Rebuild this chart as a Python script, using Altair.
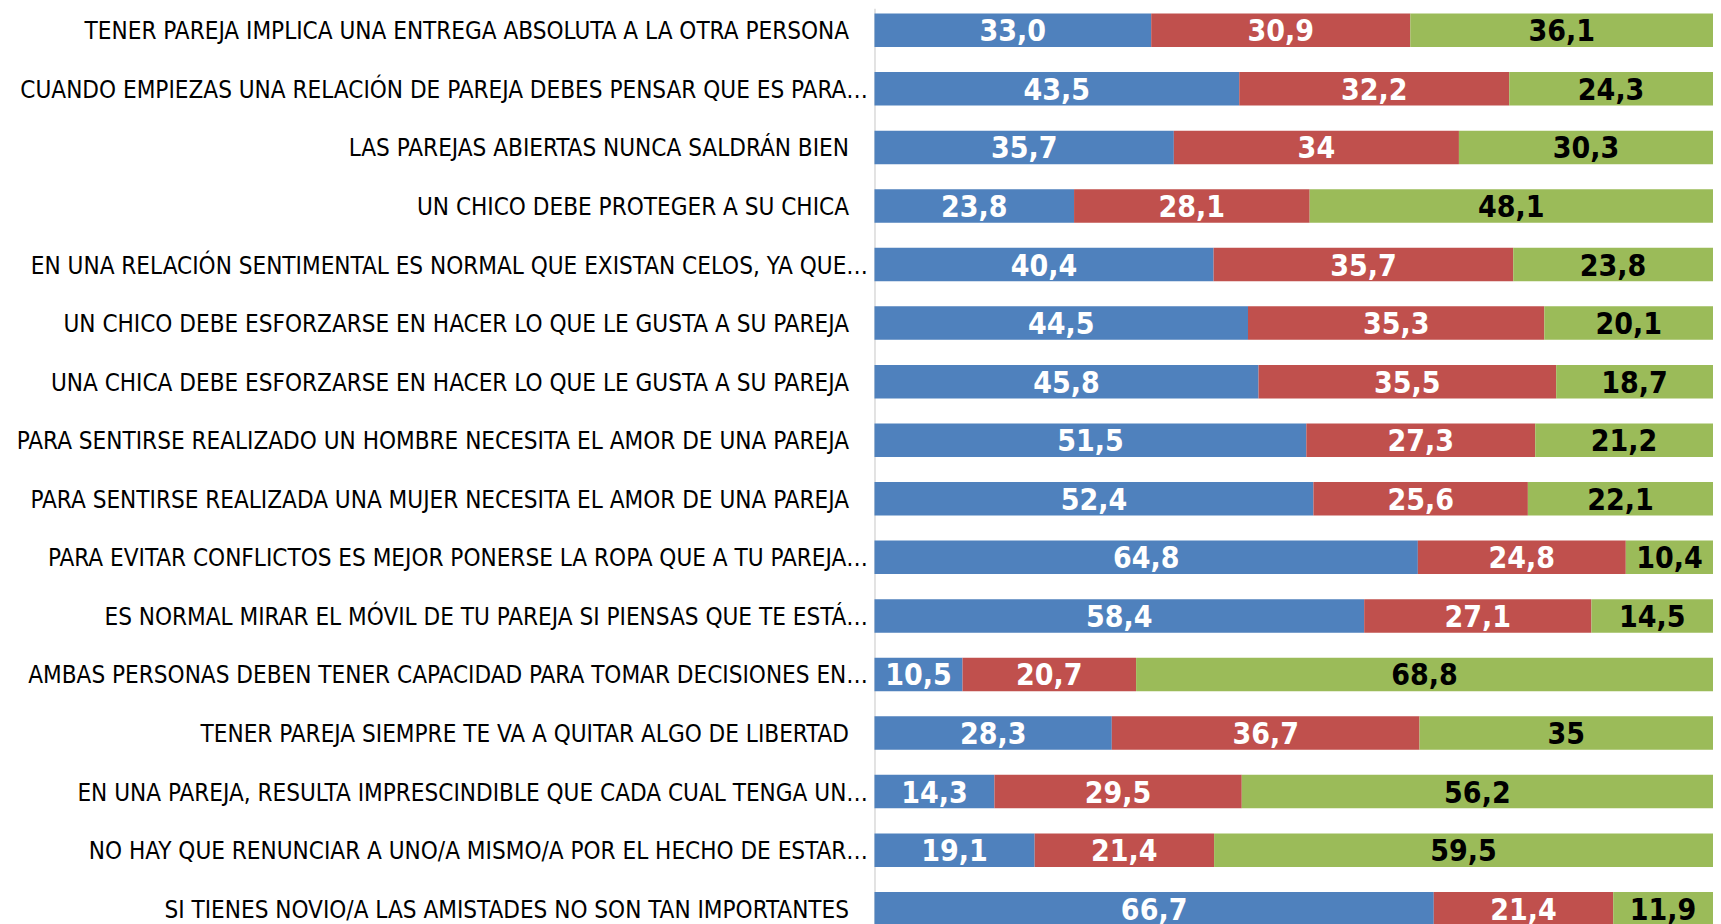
import altair as alt
import pandas as pd

questions = [
    "TENER PAREJA IMPLICA UNA ENTREGA ABSOLUTA A LA OTRA PERSONA",
    "CUANDO EMPIEZAS UNA RELACIÓN DE PAREJA DEBES PENSAR QUE ES PARA…",
    "LAS PAREJAS ABIERTAS NUNCA SALDRÁN BIEN",
    "UN CHICO DEBE PROTEGER A SU CHICA",
    "EN UNA RELACIÓN SENTIMENTAL ES NORMAL QUE EXISTAN CELOS, YA QUE…",
    "UN CHICO DEBE ESFORZARSE EN HACER LO QUE LE GUSTA A SU PAREJA",
    "UNA CHICA DEBE ESFORZARSE EN HACER LO QUE LE GUSTA A SU PAREJA",
    "PARA SENTIRSE REALIZADO UN HOMBRE NECESITA EL AMOR DE UNA PAREJA",
    "PARA SENTIRSE REALIZADA UNA MUJER NECESITA EL AMOR DE UNA PAREJA",
    "PARA EVITAR CONFLICTOS ES MEJOR PONERSE LA ROPA QUE A TU PAREJA…",
    "ES NORMAL MIRAR EL MÓVIL DE TU PAREJA SI PIENSAS QUE TE ESTÁ…",
    "AMBAS PERSONAS DEBEN TENER CAPACIDAD PARA TOMAR DECISIONES EN…",
    "TENER PAREJA SIEMPRE TE VA A QUITAR ALGO DE LIBERTAD",
    "EN UNA PAREJA, RESULTA IMPRESCINDIBLE QUE CADA CUAL TENGA UN…",
    "NO HAY QUE RENUNCIAR A UNO/A MISMO/A POR EL HECHO DE ESTAR…",
    "SI TIENES NOVIO/A LAS AMISTADES NO SON TAN IMPORTANTES",
]

series_names = ["Serie 1", "Serie 2", "Serie 3"]
serie1 = ["33,0", "43,5", "35,7", "23,8", "40,4", "44,5", "45,8", "51,5",
          "52,4", "64,8", "58,4", "10,5", "28,3", "14,3", "19,1", "66,7"]
serie2 = ["30,9", "32,2", "34", "28,1", "35,7", "35,3", "35,5", "27,3",
          "25,6", "24,8", "27,1", "20,7", "36,7", "29,5", "21,4", "21,4"]
serie3 = ["36,1", "24,3", "30,3", "48,1", "23,8", "20,1", "18,7", "21,2",
          "22,1", "10,4", "14,5", "68,8", "35", "56,2", "59,5", "11,9"]
colors = ["#4F81BD", "#C0504D", "#9BBB59"]
text_colors = ["#FFFFFF", "#FFFFFF", "#000000"]

rows = []
for si, (name, vals) in enumerate(zip(series_names, [serie1, serie2, serie3])):
    for q, v in zip(questions, vals):
        rows.append({"q": q, "serie": name, "orden": si,
                     "v": float(v.replace(",", ".")), "txt": v})
df = pd.DataFrame(rows)

LABEL_FONT = "Liberation Sans Narrow, DejaVu Sans Condensed, sans-serif"

base = alt.Chart(df).transform_stack(
    stack="v", as_=["v0", "v1"], groupby=["q"],
    sort=[alt.SortField("orden", order="ascending")], offset="normalize"
).transform_calculate(mid="(datum.v0 + datum.v1) / 2")

y_enc = alt.Y(
    "q:N", sort=questions, title=None,
    scale=alt.Scale(paddingInner=0.428, paddingOuter=0.09),
    axis=alt.Axis(
        ticks=False, grid=False, domainColor="#D9D9D9", domainWidth=1.5,
        labelFont=LABEL_FONT, labelFontSize=24.1, labelColor="#000000",
        labelLimit=0, labelAlign="right", labelOffset=2,
        labelPadding={"condition": {"test": "indexof(datum.label, '…') >= 0", "value": 7}, "value": 26},
    ),
)

bars = base.mark_bar().encode(
    x=alt.X("v0:Q", scale=alt.Scale(domain=[0, 1]), axis=None),
    x2="v1:Q",
    y=y_enc,
    color=alt.Color("serie:N", scale=alt.Scale(domain=series_names, range=colors), legend=None),
)

labels = base.mark_text(
    font=LABEL_FONT, fontSize=30, fontWeight="bold", baseline="middle", align="center", dy=2
).encode(
    x=alt.X("mid:Q", scale=alt.Scale(domain=[0, 1]), axis=None),
    y=alt.Y("q:N", sort=questions),
    text="txt:N",
    color=alt.Color("serie:N", scale=alt.Scale(domain=series_names, range=text_colors), legend=None),
)

chart = alt.layer(bars, labels).resolve_scale(color="independent").properties(
    width=839, height=923,
    autosize=alt.AutoSizeParams(type="none"),
    padding={"left": 867, "top": 0, "right": 0, "bottom": 0},
).configure_view(stroke=None)

chart.save("out.html", embed_options={"renderer": "svg", "actions": False})
